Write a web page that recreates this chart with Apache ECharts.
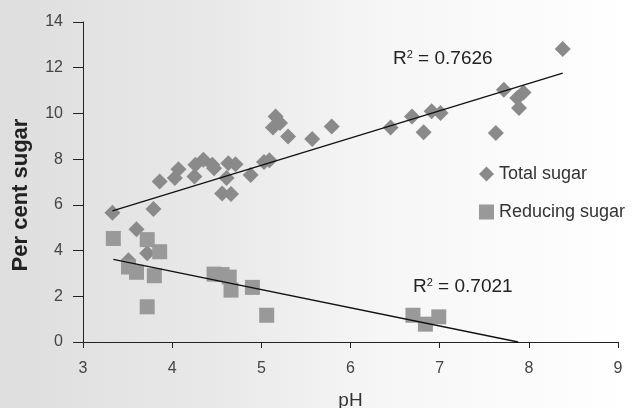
<!DOCTYPE html>
<html>
<head>
<meta charset="utf-8">
<script src="https://cdn.jsdelivr.net/npm/echarts@6/dist/echarts.min.js"></script>
<style>
  html, body { margin: 0; padding: 0; }
  #chart { width: 633px; height: 408px; }
</style>
</head>
<body>
<div id="chart"></div>
<script>
// pH, per cent sugar
var totalSugar = [
    [3.33, 5.65], [3.51, 3.58], [3.60, 4.93], [3.72, 3.88], [3.79, 5.82],
    [3.86, 7.02], [4.03, 7.17], [4.07, 7.56], [4.25, 7.24], [4.26, 7.75],
    [4.35, 7.97], [4.45, 7.75], [4.47, 7.60], [4.56, 6.50], [4.61, 7.17],
    [4.63, 7.82], [4.66, 6.48], [4.71, 7.78], [4.88, 7.31], [5.03, 7.88],
    [5.09, 7.95], [5.13, 9.38], [5.16, 9.87], [5.21, 9.58], [5.30, 8.99],
    [5.57, 8.88], [5.79, 9.43], [6.45, 9.38], [6.69, 9.87], [6.82, 9.18],
    [6.91, 10.09], [7.01, 10.02], [7.63, 9.14], [7.72, 11.04], [7.87, 10.68],
    [7.94, 10.92], [7.89, 10.24], [8.38, 12.82]
];
var reducingSugar = [
    [3.34, 4.53], [3.72, 4.48], [3.86, 3.95], [3.51, 3.28], [3.60, 3.05],
    [3.80, 2.90], [3.72, 1.54], [4.47, 2.97], [4.56, 2.95], [4.64, 2.84],
    [4.66, 2.27], [4.90, 2.39], [5.06, 1.17], [6.70, 1.17], [6.84, 0.78],
    [6.99, 1.10]
];
// trendline end points
var totalTrend = [[3.33, 5.74], [8.38, 11.76]];
var reducingTrend = [[3.34, 3.61], [7.88, 0.0]];
var xTicks = [3, 9, 1];
var yTicks = [0, 14, 2];
var r2Total = '0.7626';
var r2Reducing = '0.7021';

var chart = echarts.init(document.getElementById('chart'));
var font = 'Liberation Sans, Arial, sans-serif';

var option = {
    backgroundColor: {
        type: 'linear', x: 0, y: 0, x2: 1, y2: 0,
        colorStops: [
            {offset: 0, color: '#dedede'},
            {offset: 0.35, color: '#e9e9e9'},
            {offset: 0.6, color: '#f6f6f6'},
            {offset: 1, color: '#ffffff'}
        ]
    },
    textStyle: {fontFamily: font},
    grid: {left: 83, right: 15, top: 22, bottom: 66, outerBoundsMode: 'none'},
    legend: {
        orient: 'vertical',
        left: 474,
        top: 160,
        itemGap: 20,
        itemWidth: 15,
        itemHeight: 15,
        textStyle: {fontSize: 18, color: '#333', fontFamily: font},
        data: [
            {name: 'Total sugar', icon: 'diamond'},
            {name: 'Reducing sugar', icon: 'rect'}
        ]
    },
    xAxis: {
        type: 'value',
        min: xTicks[0], max: xTicks[1], interval: xTicks[2],
        name: 'pH',
        nameLocation: 'middle',
        nameGap: 49,
        nameTextStyle: {fontSize: 19, color: '#333'},
        axisLine: {onZero: false, lineStyle: {color: '#222', width: 1}},
        axisTick: {show: true, length: 6, lineStyle: {color: '#222'}},
        axisLabel: {fontSize: 16, color: '#444', margin: 19},
        splitLine: {show: false}
    },
    yAxis: {
        type: 'value',
        min: yTicks[0], max: yTicks[1], interval: yTicks[2],
        axisLine: {show: true, onZero: false, lineStyle: {color: '#222', width: 1}},
        axisTick: {show: true, length: 10, lineStyle: {color: '#222'}},
        axisLabel: {fontSize: 16, color: '#444', margin: 20},
        splitLine: {show: false}
    },
    series: [
        {
            name: 'Total sugar',
            type: 'scatter',
            symbol: 'diamond',
            symbolSize: 16,
            itemStyle: {color: '#8a8a8a', opacity: 1},
            data: totalSugar,
            z: 3
        },
        {
            name: 'Reducing sugar',
            type: 'scatter',
            symbol: 'rect',
            symbolSize: 15,
            itemStyle: {color: '#999999', opacity: 1},
            data: reducingSugar,
            z: 3
        },
        {
            name: 'totalTrend',
            type: 'line',
            data: totalTrend,
            symbol: 'none',
            lineStyle: {color: '#111', width: 1.3},
            z: 4,
            silent: true
        },
        {
            name: 'reducingTrend',
            type: 'line',
            data: reducingTrend,
            symbol: 'none',
            lineStyle: {color: '#111', width: 1.3},
            z: 4,
            silent: true
        }
    ],
    graphic: [
        {
            // y axis title, sits a bit below the plot centre in the original
            type: 'text',
            x: 21, y: 195,
            rotation: Math.PI / 2,
            style: {
                text: 'Per cent sugar',
                font: 'bold 22px ' + font,
                fill: '#222',
                align: 'center',
                verticalAlign: 'middle'
            }
        },
        {
            type: 'text',
            left: 393, top: 49,
            style: {
                text: 'R{s|2} = ' + r2Total,
                font: '19px ' + font,
                fill: '#222',
                rich: {s: {fontSize: 11, verticalAlign: 'top', padding: [0, 0, 9, 0]}}
            }
        },
        {
            type: 'text',
            left: 413, top: 277,
            style: {
                text: 'R{s|2} = ' + r2Reducing,
                font: '19px ' + font,
                fill: '#222',
                rich: {s: {fontSize: 11, verticalAlign: 'top', padding: [0, 0, 9, 0]}}
            }
        }
    ]
};

chart.setOption(option);
</script>
</body>
</html>
